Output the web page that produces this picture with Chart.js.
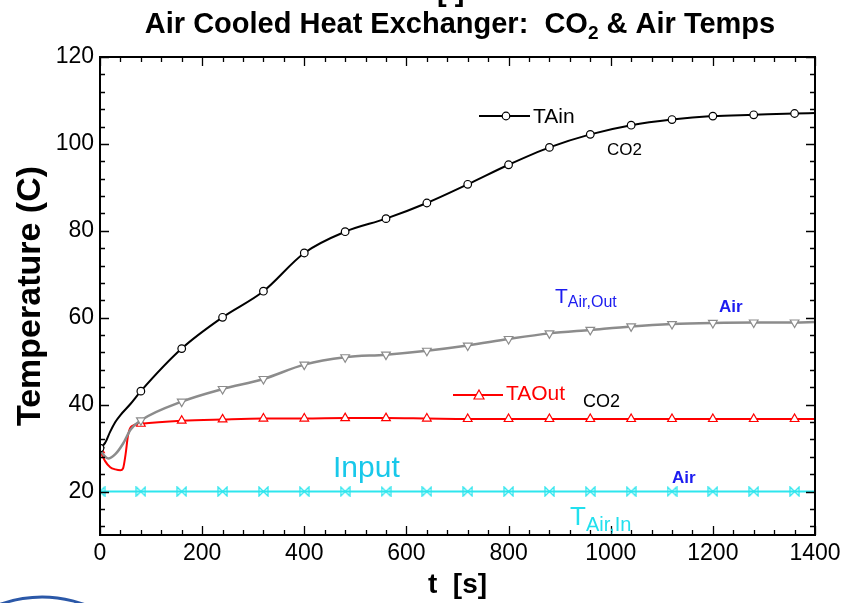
<!DOCTYPE html>
<html>
<head>
<meta charset="utf-8">
<script src="https://cdn.jsdelivr.net/npm/chart.js@4.4.1/dist/chart.umd.min.js"></script>
<style>
  html, body { margin: 0; padding: 0; background: #fff; }
  #c { display: block; }
</style>
</head>
<body>
<canvas id="c" width="843" height="603"></canvas>
<script>
// time (s) and temperature (C) for each trace
const tCO2In = [0, 10, 20, 30, 40, 60, 80, 160, 240, 320, 400, 480, 560, 640, 720, 800, 880, 960, 1040, 1120, 1200, 1280, 1360, 1400];
const TCO2In = [30, 31.2, 33.8, 36, 37.6, 40.2, 43.1, 52.9, 60.1, 66.1, 74.9, 79.8, 82.8, 86.4, 90.7, 95.2, 99.2, 102.2, 104.3, 105.6, 106.4, 106.7, 107.0, 107.1];

const tAirOut = [0, 8, 16, 30, 45, 60, 80, 160, 240, 320, 400, 480, 560, 640, 720, 800, 880, 960, 1040, 1120, 1200, 1280, 1360, 1400];
const TAirOut = [29.6, 28.3, 27.6, 28.6, 31, 34.3, 36.4, 40.7, 43.6, 45.9, 49.2, 50.9, 51.5, 52.4, 53.6, 55.1, 56.4, 57.2, 58.0, 58.55, 58.8, 58.9, 58.9, 59.0];

const tCO2Out = [0, 10, 20, 30, 40, 45, 50, 55, 62, 80, 160, 240, 320, 400, 480, 560, 640, 720, 800, 880, 960, 1040, 1120, 1200, 1280, 1360, 1400];
const TCO2Out = [29.5, 27, 25.6, 25.1, 24.9, 25.3, 28.5, 33, 35, 35.6, 36.3, 36.6, 36.8, 36.8, 36.9, 36.9, 36.8, 36.7, 36.7, 36.7, 36.7, 36.7, 36.7, 36.7, 36.7, 36.7, 36.7];

const tAirIn = [0, 80, 160, 240, 320, 400, 480, 560, 640, 720, 800, 880, 960, 1040, 1120, 1200, 1280, 1360, 1400];
const TAirIn = [20, 20, 20, 20, 20, 20, 20, 20, 20, 20, 20, 20, 20, 20, 20, 20, 20, 20, 20];

const xTicks = [0, 200, 400, 600, 800, 1000, 1200, 1400];
const yTicks = [20, 40, 60, 80, 100, 120];

const markerStep = 80;
const FONT = '"Liberation Sans", Arial, Helvetica, sans-serif';

const pts = (t, T) => t.map((x, i) => ({ x, y: T[i] }));
const marker = r => ctx => (ctx.raw && ctx.raw.x % markerStep === 0 && ctx.raw.x < 1400) ? r : 0;

// bow-tie marker for the air inlet trace
function bowtie(color) {
  const c = document.createElement('canvas');
  c.width = 11; c.height = 11;
  const g = c.getContext('2d');
  g.strokeStyle = color; g.lineWidth = 1.3;
  g.beginPath();
  g.moveTo(1, 1); g.lineTo(10, 10); g.lineTo(10, 1); g.lineTo(1, 10); g.closePath();
  g.stroke();
  return c;
}

function series(t, T, color, width, style, radius, extra) {
  return Object.assign({
    data: pts(t, T),
    borderColor: color,
    borderWidth: width,
    cubicInterpolationMode: 'monotone',
    pointStyle: style,
    pointRadius: marker(radius),
    pointHoverRadius: marker(radius),
    pointBackgroundColor: '#fff',
    pointBorderColor: color,
    pointBorderWidth: 1.2,
    clip: 0
  }, extra || {});
}

// text with a lowered, smaller subscript
function subText(ctx, x, y, main, sub, size, subSize, drop, color, bold) {
  const w = bold ? 'bold ' : '';
  ctx.fillStyle = color;
  ctx.textBaseline = 'alphabetic';
  ctx.textAlign = 'left';
  ctx.font = w + size + 'px ' + FONT;
  ctx.fillText(main, x, y);
  const mw = ctx.measureText(main).width;
  ctx.font = w + subSize + 'px ' + FONT;
  ctx.fillText(sub, x + mw, y + drop);
}

function text(ctx, s, x, y, size, color, bold) {
  ctx.fillStyle = color;
  ctx.textBaseline = 'alphabetic';
  ctx.textAlign = 'left';
  ctx.font = (bold ? 'bold ' : '') + size + 'px ' + FONT;
  ctx.fillText(s, x, y);
}

const decor = {
  id: 'decor',
  afterDatasetsDraw(chart) {
    const { ctx, chartArea: a, scales: { x, y } } = chart;
    ctx.save();
    ctx.strokeStyle = '#000';
    ctx.lineWidth = 2;
    ctx.strokeRect(a.left, a.top, a.right - a.left, a.bottom - a.top);

    // inward ticks on all four sides
    ctx.lineWidth = 1.3;
    ctx.beginPath();
    for (let v = 0; v <= 1400; v += 40) {
      const px = Math.round(x.getPixelForValue(v)) + 0.5;
      const len = v % 200 === 0 ? 9 : 5;
      ctx.moveTo(px, a.bottom); ctx.lineTo(px, a.bottom - len);
      ctx.moveTo(px, a.top); ctx.lineTo(px, a.top + len);
    }
    for (let v = 12; v <= 120; v += 4) {
      const py = Math.round(y.getPixelForValue(v)) + 0.5;
      const len = v % 20 === 0 ? 9 : 5;
      ctx.moveTo(a.left, py); ctx.lineTo(a.left + len, py);
      ctx.moveTo(a.right, py); ctx.lineTo(a.right - len, py);
    }
    ctx.stroke();
    ctx.restore();
  },
  afterDraw(chart) {
    const { ctx } = chart;
    ctx.save();

    // title
    ctx.font = 'bold 29px ' + FONT;
    const t1 = 'Air Cooled Heat Exchanger:  CO', t2 = ' & Air Temps';
    const w1 = ctx.measureText(t1).width, w3 = ctx.measureText(t2).width;
    ctx.font = 'bold 19px ' + FONT;
    const w2 = ctx.measureText('2').width;
    const tx = 460 - (w1 + w2 + w3) / 2;
    text(ctx, t1, tx, 33, 29, '#000', true);
    text(ctx, '2', tx + w1, 39, 19, '#000', true);
    text(ctx, t2, tx + w1 + w2, 33, 29, '#000', true);
    text(ctx, '[ ]', 437, 1, 29, '#000', true);

    // CO2 inlet label
    ctx.strokeStyle = '#000'; ctx.lineWidth = 2;
    ctx.beginPath(); ctx.moveTo(479, 116); ctx.lineTo(530, 116); ctx.stroke();
    ctx.fillStyle = '#fff'; ctx.lineWidth = 1.2;
    ctx.beginPath(); ctx.arc(506, 116, 3.8, 0, Math.PI * 2); ctx.fill(); ctx.stroke();
    text(ctx, 'TAin', 533, 123, 21, '#000');
    text(ctx, 'CO2', 607, 155, 17, '#000');

    // air outlet label
    subText(ctx, 555, 303, 'T', 'Air,Out', 21, 16, 4, '#1c1cf0');
    text(ctx, 'Air', 719, 312, 17, '#1c1cf0', true);

    // CO2 outlet label
    ctx.strokeStyle = '#ff0000'; ctx.lineWidth = 2;
    ctx.beginPath(); ctx.moveTo(453, 395); ctx.lineTo(503, 395); ctx.stroke();
    ctx.fillStyle = '#fff'; ctx.lineWidth = 1.2;
    ctx.beginPath(); ctx.moveTo(479, 390); ctx.lineTo(484, 399); ctx.lineTo(474, 399); ctx.closePath(); ctx.fill(); ctx.stroke();
    text(ctx, 'TAOut', 506, 400, 21, '#ff0000');
    text(ctx, 'CO2', 583, 407, 18, '#000');

    // air inlet labels
    text(ctx, 'Input', 333, 477, 30, '#18c8ea');
    text(ctx, 'Air', 672, 483, 17, '#1c1cf0', true);
    subText(ctx, 570, 525, 'T', 'Air,In', 26, 20, 6, '#22e0ee');

    // logo edge, lower left
    ctx.strokeStyle = '#2b58a8'; ctx.lineWidth = 3;
    ctx.beginPath(); ctx.arc(42, 720, 123, Math.PI * 1.2, Math.PI * 1.8); ctx.stroke();
    ctx.restore();
  }
};

new Chart(document.getElementById('c'), {
  type: 'line',
  data: {
    datasets: [
      series(tCO2In, TCO2In, '#000000', 2, 'circle', 3.8),
      series(tAirOut, TAirOut, '#8c8c8c', 2.5, 'triangle', 5, { pointRotation: 180 }),
      series(tCO2Out, TCO2Out, '#ff0000', 2, 'triangle', 5),
      series(tAirIn, TAirIn, '#2ee6ee', 2, bowtie('#2ee6ee'), 5)
    ]
  },
  options: {
    responsive: false,
    animation: false,
    events: [],
    layout: { padding: { top: 57, right: 28, left: 0, bottom: 0 } },
    plugins: { legend: { display: false }, tooltip: { enabled: false } },
    scales: {
      x: {
        type: 'linear',
        min: 0,
        max: 1400,
        afterFit: s => { s.height = 68; s.paddingLeft = 0; s.paddingRight = 0; },
        afterBuildTicks: s => { s.ticks = xTicks.map(v => ({ value: v })); },
        grid: { display: false, drawTicks: false },
        border: { display: false },
        ticks: { color: '#000', padding: 5, maxRotation: 0, autoSkip: false, callback: v => String(v), font: { family: FONT, size: 23 } },
        title: { display: true, text: 't  [s]', color: '#000', padding: { top: 0, bottom: 1 }, font: { family: FONT, size: 28, weight: 'bold' } }
      },
      y: {
        min: 10,
        max: 120,
        afterFit: s => { s.width = 100; s.paddingTop = 0; s.paddingBottom = 0; },
        afterBuildTicks: s => { s.ticks = yTicks.map(v => ({ value: v })); },
        grid: { display: false, drawTicks: false },
        border: { display: false },
        ticks: { color: '#000', padding: 6, callback: v => String(v), font: { family: FONT, size: 23 } },
        title: { display: true, text: 'Temperature (C)', color: '#000', padding: { top: 10, bottom: 0 }, font: { family: FONT, size: 34, weight: 'bold' } }
      }
    }
  },
  plugins: [decor]
});
</script>
</body>
</html>
